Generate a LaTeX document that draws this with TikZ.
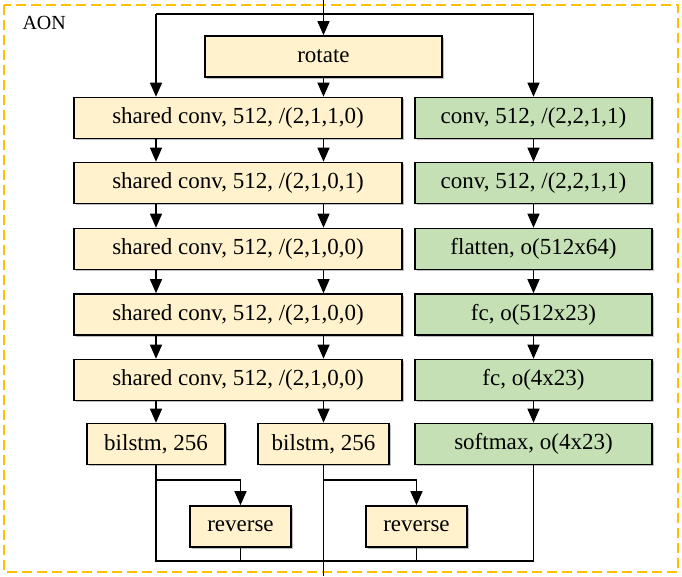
\documentclass[tikz,border=0pt]{standalone}
\usepackage{fontspec}
\setmainfont{Liberation Serif}
\usetikzlibrary{arrows.meta,shadows}
\definecolor{ybox}{HTML}{FFF2CC}
\definecolor{gbox}{HTML}{C5E0B4}
\definecolor{frame}{HTML}{FFC000}
\begin{document}
\begin{tikzpicture}[x=1pt,y=-1pt,
  box/.style={draw=black,line width=1.6pt,minimum height=41pt,inner sep=0pt,
    font=\fontsize{23}{26}\selectfont,
    drop shadow={shadow xshift=1.5pt,shadow yshift=-1.5pt,opacity=0.25,fill=black}},
  ybx/.style={box,fill=ybox},
  gbx/.style={box,fill=gbox},
  conn/.style={line width=1.3pt},
  arr/.style={conn,-{Triangle[length=14pt,width=12pt]}}]
\useasboundingbox (0,0) rectangle (682,576);
\draw[frame,line width=1.5pt,dash pattern=on 10pt off 5pt] (4,5) rectangle (678,572);
\node[anchor=west,font=\fontsize{20}{22}\selectfont] (aon) at (19,23) {AON};
% nodes
\node[ybx,minimum width=237pt] (rot) at (323.5,56.5) {rotate};
\node[ybx,minimum width=328pt] (s1) at (238,118) {shared conv, 512, /(2,1,1,0)};
\node[ybx,minimum width=328pt] (s2) at (238,183) {shared conv, 512, /(2,1,0,1)};
\node[ybx,minimum width=328pt] (s3) at (238,249) {shared conv, 512, /(2,1,0,0)};
\node[ybx,minimum width=328pt] (s4) at (238,314.5) {shared conv, 512, /(2,1,0,0)};
\node[ybx,minimum width=328pt] (s5) at (238,380) {shared conv, 512, /(2,1,0,0)};
\node[gbx,minimum width=237pt] (g1) at (533.5,118) {conv, 512, /(2,2,1,1)};
\node[gbx,minimum width=237pt] (g2) at (533.5,183) {conv, 512, /(2,2,1,1)};
\node[gbx,minimum width=237pt] (g3) at (533.5,249) {flatten, o(512x64)};
\node[gbx,minimum width=237pt] (g4) at (533.5,314.5) {fc, o(512x23)};
\node[gbx,minimum width=237pt] (g5) at (533.5,380) {fc, o(4x23)};
\node[gbx,minimum width=237pt] (g6) at (533.5,444) {softmax, o(4x23)};
\node[ybx,minimum width=138pt] (b1) at (156,444) {bilstm, 256};
\node[ybx,minimum width=131pt] (b2) at (323.5,444) {bilstm, 256};
\node[ybx,minimum width=101pt] (r1) at (240.5,526.5) {reverse};
\node[ybx,minimum width=101pt] (r2) at (416.5,526.5) {reverse};
% coordinates
\coordinate (in) at (323.5,0);
\coordinate (tl) at (156,14);
\coordinate (tr) at (533.5,14);
\coordinate (out) at (323.5,576);
\coordinate (bl) at (156,561);
\coordinate (br) at (533.5,561);
% connectors
\draw[arr] (in) -- (rot.north);
\draw[conn] (tl) -- (tr);
\draw[arr] (tl) -- (tl |- s1.north);
\draw[arr] (tr) -- (g1.north);
\draw[arr] (rot.south) -- (rot.south |- s1.north);
\foreach \a/\b in {s1/s2,s2/s3,s3/s4,s4/s5}{
  \draw[arr] (\a.south -| tl) -- (\b.north -| tl);
  \draw[arr] (\a.south -| in) -- (\b.north -| in);
}
\draw[arr] (s5.south -| b1) -- (b1.north);
\draw[arr] (s5.south -| b2) -- (b2.north);
\foreach \a/\b in {g1/g2,g2/g3,g3/g4,g4/g5,g5/g6}{
  \draw[arr] (\a.south) -- (\b.north);
}
\draw[conn] (b1.south) -- (bl) -- (br) -- (g6.south);
\draw[conn] (b2.south) -- (out);
\draw[arr] (b1.south |- 0,480) -| (r1.north);
\draw[arr] (b2.south |- 0,480) -| (r2.north);
\draw[conn] (r1.south) -- (r1.south |- bl);
\draw[conn] (r2.south) -- (r2.south |- bl);
\end{tikzpicture}
\end{document}
